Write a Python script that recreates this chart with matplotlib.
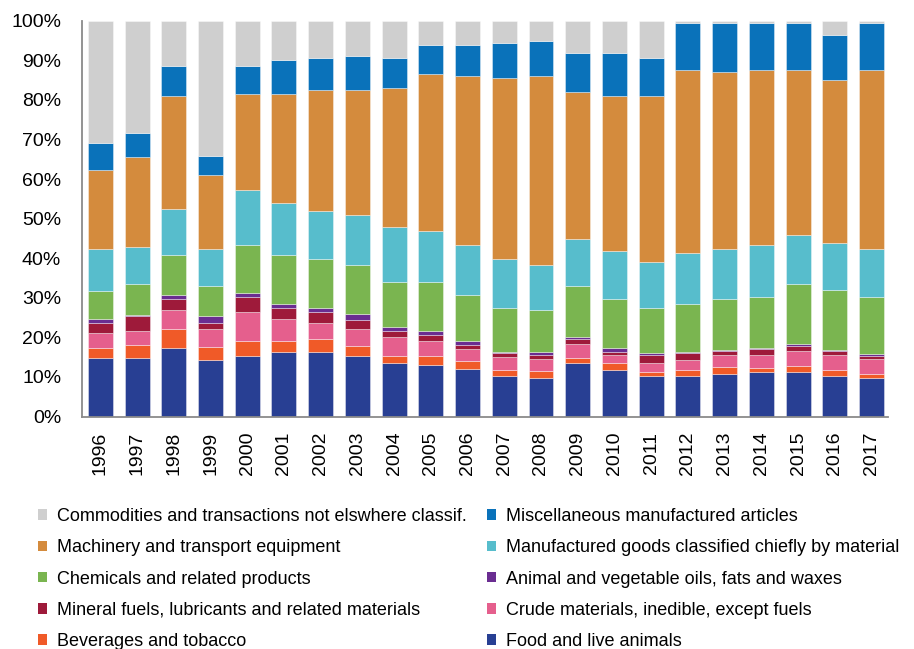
import matplotlib
matplotlib.use("Agg")
import matplotlib.pyplot as plt
from matplotlib.patches import Patch
import numpy as np

years = [str(y) for y in range(1996, 2018)]

categories = [
    "Food and live animals",
    "Beverages and tobacco",
    "Crude materials, inedible, except fuels",
    "Mineral fuels, lubricants and related materials",
    "Animal and vegetable oils, fats and waxes",
    "Chemicals and related products",
    "Manufactured goods classified chiefly by material",
    "Machinery and transport equipment",
    "Miscellaneous manufactured articles",
    "Commodities and transactions not elswhere classif.",
]

food = [14.9, 14.9, 17.4, 14.4, 15.4, 16.4, 16.4, 15.4, 13.4, 12.9, 11.9,
        10.3, 9.7, 13.4, 11.8, 10.3, 10.3, 10.8, 11.3, 11.3, 10.3, 9.7]
beverages = [2.5, 3.1, 4.7, 3.1, 3.6, 2.6, 3.1, 2.5, 2.0, 2.5, 2.1,
             1.5, 1.7, 1.5, 1.6, 1.0, 1.5, 1.6, 1.0, 1.5, 1.5, 1.1]
crude = [3.7, 3.7, 4.7, 4.7, 7.3, 5.7, 4.2, 4.3, 4.7, 3.8, 3.1,
         3.2, 3.1, 3.3, 2.1, 2.2, 2.6, 3.1, 3.2, 3.7, 3.7, 3.7]
mineral = [2.6, 3.6, 3.0, 1.5, 4.0, 2.6, 2.6, 2.1, 1.5, 1.4, 0.9,
           1.0, 1.0, 1.3, 0.9, 2.0, 1.6, 1.0, 1.5, 1.4, 1.0, 0.9]
oils = [1.0, 0.4, 1.0, 1.6, 1.0, 1.0, 1.0, 1.5, 1.1, 1.1, 1.0,
        0.4, 0.9, 0.5, 1.0, 0.5, 0.4, 0.4, 0.4, 0.5, 0.4, 0.5]
chemicals = [7.1, 7.7, 9.9, 7.6, 12.0, 12.4, 12.4, 12.4, 11.3, 12.3, 11.8,
             10.9, 10.4, 12.9, 12.4, 11.3, 11.9, 12.9, 12.9, 15.0, 15.1, 14.4]
manufactured = [10.5, 9.4, 11.8, 9.4, 13.9, 13.3, 12.3, 12.8, 13.9, 12.9, 12.5,
                12.4, 11.4, 11.9, 12.0, 11.8, 12.9, 12.5, 13.0, 12.4, 11.8, 12.0]
machinery = [20.0, 22.7, 28.5, 18.6, 24.3, 27.5, 30.5, 31.5, 35.1, 39.7, 42.8,
             45.9, 47.9, 37.2, 39.2, 41.9, 46.4, 44.8, 44.3, 41.8, 41.2, 45.3]
miscellaneous = [6.7, 6.1, 7.6, 5.0, 7.1, 8.6, 8.2, 8.7, 7.7, 7.2, 7.7,
                 8.7, 8.7, 9.8, 10.8, 9.7, 11.9, 12.4, 11.9, 11.9, 11.4, 11.9]
commodities = [31.0, 28.4, 11.4, 34.1, 11.4, 9.9, 9.3, 8.8, 9.3, 6.2, 6.2,
               5.7, 5.2, 8.2, 8.2, 9.3, 0.5, 0.5, 0.5, 0.5, 3.6, 0.5]

series = [food, beverages, crude, mineral, oils, chemicals,
          manufactured, machinery, miscellaneous, commodities]
colors = ["#283F93", "#F05A28", "#E55F8D", "#9E1A3A", "#6A2D91",
          "#7AB550", "#57BDCC", "#D48B3D", "#0A72BA", "#CFCFCF"]

legend_labels = [
    "Food and live animals",
    "Beverages and tobacco",
    "Crude materials, inedible, except fuels",
    "Mineral fuels, lubricants and related materials",
    "Animal and vegetable oils, fats and waxes",
    "Chemicals and related products",
    "Manufactured goods classified chiefly by material",
    "Machinery and transport equipment",
    "Miscellaneous manufactured articles",
    "Commodities and transactions not elswhere classif.",
]

plt.rcParams["font.family"] = ["Liberation Sans", "DejaVu Sans"]

fig = plt.figure(figsize=(9.14, 6.49), dpi=100)
ax = fig.add_axes([82 / 914, 1 - 416.5 / 649, (888 - 82) / 914, (416.5 - 20.7) / 649])

x = np.arange(len(years))
bottom = np.zeros(len(years))
for vals, col in zip(series, colors):
    vals = np.array(vals)
    ax.bar(x, vals, width=0.68, bottom=bottom, color=col,
           edgecolor=(1, 1, 1, 0.45), linewidth=0.6)
    bottom += vals

ax.set_xlim(-0.5, 21.45)
ax.set_ylim(0, 100)
ax.set_yticks(np.arange(0, 101, 10))
ax.set_yticklabels([f"{v}%" for v in range(0, 101, 10)], fontsize=14)
ax.set_xticks(x)
ax.set_xticklabels(years, rotation=90, fontsize=14)
ax.tick_params(axis="y", length=0, pad=15)
ax.tick_params(axis="x", length=0, pad=11)
for s in ["top", "right"]:
    ax.spines[s].set_visible(False)
for s in ["left", "bottom"]:
    ax.spines[s].set_color("#8a8a8a")
    ax.spines[s].set_linewidth(1.3)

# legend
order_left = [9, 7, 5, 3, 1]
order_right = [8, 6, 4, 2, 0]
def make_handles(idx):
    return [Patch(facecolor=colors[i], edgecolor="none") for i in idx], \
           [legend_labels[i] for i in idx]

common = dict(loc="upper left", frameon=False, fontsize=13, handlelength=0.52,
              handleheight=0.52, handletextpad=0.55, labelspacing=0.79,
              borderpad=0, borderaxespad=0)
h, l = make_handles(order_left)
leg1 = fig.legend(h, l, bbox_to_anchor=(38 / 914, 1 - 508 / 649), **common)
h, l = make_handles(order_right)
leg2 = fig.legend(h, l, bbox_to_anchor=(487 / 914, 1 - 508 / 649), **common)

fig.savefig("out.png", dpi=100)
